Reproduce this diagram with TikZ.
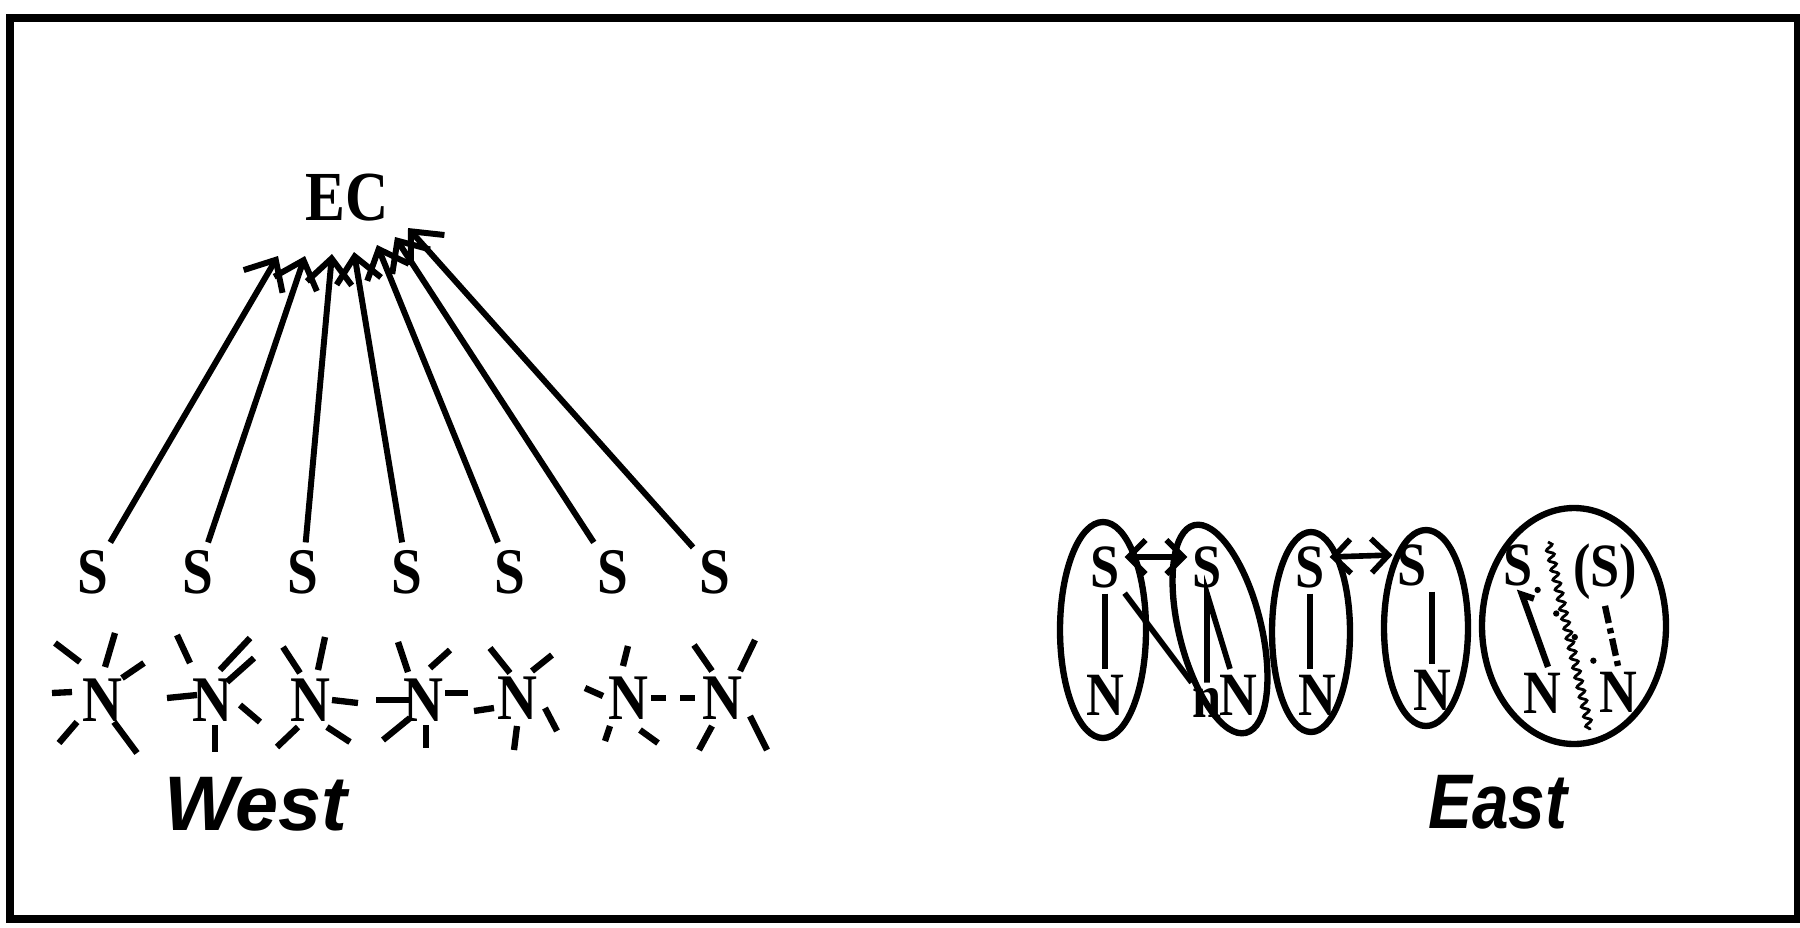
\documentclass[tikz,border=0pt]{standalone}
\usepackage{fontspec}
\setmainfont{Liberation Serif}
\newfontfamily\labelfont{Liberation Sans}
\usetikzlibrary{arrows.meta, calc, decorations.pathmorphing}

\tikzset{
  letter/.style={font=\fontsize{18.5}{18.5}\selectfont\bfseries, inner sep=2pt, xscale=0.85},
  eletter/.style={font=\fontsize{17.5}{17.5}\selectfont\bfseries, inner sep=1.5pt, xscale=0.85},
  side/.style={font=\labelfont\fontsize{22}{22}\selectfont\bfseries\itshape, anchor=base},
  spoke/.style={line width=1.8pt},
  link/.style={line width=1.7pt, -{Straight Barb[length=2.5mm,width=4.5mm]}},
  bond/.style={line width=1.6pt},
  blob/.style={line width=1.8pt},
  pair/.style={line width=1.6pt, {Straight Barb[length=1.7mm,width=3.4mm]}-{Straight Barb[length=1.7mm,width=3.4mm]}},
  dashdot/.style={line width=1.8pt, dash pattern=on 5pt off 1.5pt on 1.5pt off 1.5pt},
  dots/.style={line width=1.8pt, line cap=round, dash pattern=on 0pt off 3mm},
  wavy/.style={line width=0.8pt, decorate, decoration={snake, amplitude=0.35mm, segment length=1mm}}
}

\begin{document}
\begin{tikzpicture}[x=0.01cm, y=-0.01cm]
  \useasboundingbox (0,0) rectangle (1800,927);
  \draw[line width=2.2pt] (10,18) rectangle (1798,919);

  % West
  \node[letter, font=\fontsize{20}{20}\selectfont\bfseries] (ec) at (347,198) {EC};

  \node[letter] (s1) at (93,572) {S};
  \node[letter] (s2) at (198,572) {S};
  \node[letter] (s3) at (303,572) {S};
  \node[letter] (s4) at (407,572) {S};
  \node[letter] (s5) at (510,572) {S};
  \node[letter] (s6) at (613,572) {S};
  \node[letter] (s7) at (715,572) {S};

  \coordinate (t1) at (278,256);
  \coordinate (t2) at (305,256);
  \coordinate (t3) at (332,254);
  \coordinate (t4) at (354,252);
  \coordinate (t5) at (377,245);
  \coordinate (t6) at (395,237);
  \coordinate (t7) at (408,228);

  \draw[link] (s1) -- (t1);
  \draw[link] (s2) -- (t2);
  \draw[link] (s3) -- (t3);
  \draw[link] (s4) -- (t4);
  \draw[link] (s5) -- (t5);
  \draw[link] (s6) -- (t6);
  \draw[link] (s7) -- (t7);

  \node[letter] (n1) at (102,700) {N};
  \node[letter] (n2) at (212,700) {N};
  \node[letter] (n3) at (310,700) {N};
  \node[letter] (n4) at (423,700) {N};
  \node[letter] (n5) at (517,698) {N};
  \node[letter] (n6) at (628,698) {N};
  \node[letter] (n7) at (722,698) {N};

  % spokes round each N
  \foreach \ax/\ay/\bx/\by in {-47/-57/-22/-38, 13/-67/3/-33, 42/-37/20/-22, -50/-7/-30/-8, -43/43/-25/22, 12/22/35/53}
    \draw[spoke, shift={(n1)}] (\ax,\ay) -- (\bx,\by);
  \foreach \ax/\ay/\bx/\by in {-35/-65/-22/-37, 38/-62/8/-30, 42/-42/15/-18, -45/-2/-15/-5, 28/5/48/22, 3/25/3/52}
    \draw[spoke, shift={(n2)}] (\ax,\ay) -- (\bx,\by);
  \foreach \ax/\ay/\bx/\by in {-27/-53/-10/-27, 15/-63/8/-30, 22/0/48/3, -33/47/-12/27, 17/27/40/42}
    \draw[spoke, shift={(n3)}] (\ax,\ay) -- (\bx,\by);
  \foreach \ax/\ay/\bx/\by in {-25/-58/-15/-28, 27/-50/7/-32, -47/0/-13/0, -40/40/-13/18, 3/25/3/48, 22/-7/45/-7}
    \draw[spoke, shift={(n4)}] (\ax,\ay) -- (\bx,\by);
  \foreach \ax/\ay/\bx/\by in {-27/-50/-7/-25, 35/-43/15/-27, -43/13/-23/10, 28/10/40/33, 0/28/-3/52}
    \draw[spoke, shift={(n5)}] (\ax,\ay) -- (\bx,\by);
  \foreach \ax/\ay/\bx/\by in {0/-52/-5/-32, -43/-10/-25/-2, 23/0/38/0, -18/28/-23/43, 12/32/30/45}
    \draw[spoke, shift={(n6)}] (\ax,\ay) -- (\bx,\by);
  \foreach \ax/\ay/\bx/\by in {-42/0/-27/0, -28/-53/-10/-27, 33/-58/18/-27, -10/28/-23/52, 28/18/45/52}
    \draw[spoke, shift={(n7)}] (\ax,\ay) -- (\bx,\by);

  \node[side] (west) at (256,830) {West};

  % East
  \draw[blob] (1103,630) ellipse [x radius=43, y radius=108];
  \draw[blob, rotate around={14:(1220,629)}] (1220,629) ellipse [x radius=41, y radius=107];
  \draw[blob] (1311,632) ellipse [x radius=39, y radius=100];
  \draw[blob] (1426,628) ellipse [x radius=42, y radius=98];
  \draw[blob] (1574,626) ellipse [x radius=92, y radius=118];

  \node[eletter] (e1s) at (1105,567) {S};
  \node[eletter] (e1n) at (1105,695) {N};
  \node[eletter] (e2s) at (1207,567) {S};
  \node[eletter] (e2m) at (1207,703) {n};
  \node[eletter] (e2n) at (1238,695) {N};
  \node[eletter] (e3s) at (1310,567) {S};
  \node[eletter] (e3n) at (1317,695) {N};
  \node[eletter] (e4s) at (1412,565) {S};
  \node[eletter] (e4n) at (1432,690) {N};
  \node[eletter] (e5s) at (1518,565) {S};
  \node[eletter] (e5p) at (1605,572) {(S)};
  \node[eletter] (e5n) at (1542,693) {N};
  \node[eletter] (e5m) at (1618,692) {N};

  \draw[bond] (e1s) -- (e1n);
  \draw[bond] (e1s) -- (e2m);
  \draw[bond] (e2m) -- (e2s.south) -- (e2n);
  \draw[bond] (e3s.south) -- (e3s.south |- e3n.north);
  \draw[bond] (e4n.north |- e4s.south) -- (e4n.north);
  \draw[pair] ([yshift=1mm]e1s.east) -- ([yshift=1mm]e2s.west);
  \draw[pair] ([yshift=1mm]e3s.east) -- ([yshift=1mm]e4s.west);

  \draw[spoke] ($(e5s.south)+(16,7)$) -- ($(e5s.south)+(4,3)$) -- ($(e5n.north)+(6,0)$);
  \draw[dashdot] (e5p.south) -- (e5m.north);
  \draw[dots] (e5s) -- (e5m);
  \coordinate (wtop) at (1548,542);
  \coordinate (wbot) at (1590,730);
  \draw[wavy] (wtop) -- (wbot);

  \node[side, xscale=0.85] (east) at (1498,828) {East};
\end{tikzpicture}
\end{document}
